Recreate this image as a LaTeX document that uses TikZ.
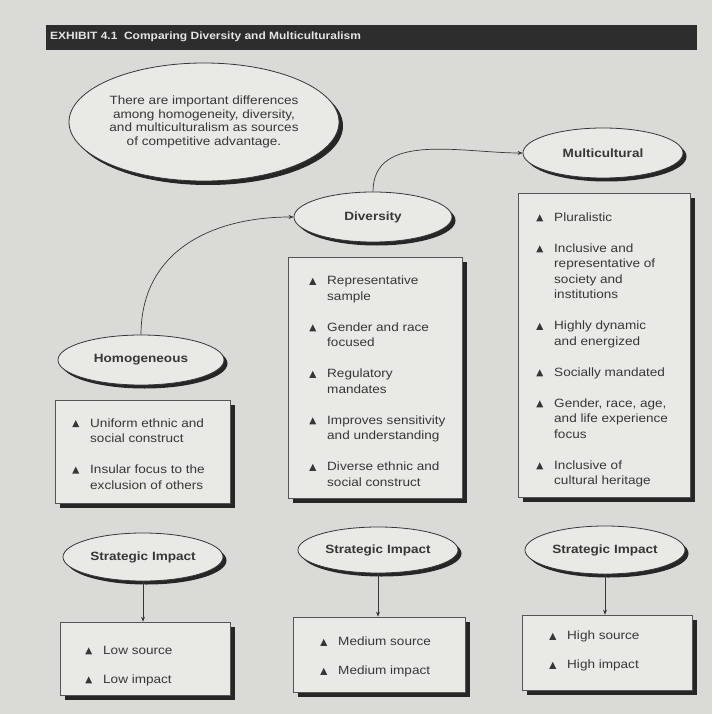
\documentclass[tikz,border=0pt]{standalone}
\usepackage{fontspec}
\setmainfont{Liberation Sans}[FakeStretch=1.13]
\usetikzlibrary{shapes.geometric,shadows,arrows.meta}
\definecolor{paper}{RGB}{218,218,215}
\definecolor{fillc}{RGB}{233,233,230}
\definecolor{ink}{RGB}{55,55,55}
\definecolor{barc}{RGB}{45,45,45}
\newcommand\tri{\tikz[baseline=0pt]\fill[ink] (0pt,0pt)--(7pt,0pt)--(3.5pt,7pt)--cycle;}
\newcommand\tabstart{\begin{tabular}{@{}l@{\hspace{11pt}}l@{}}}
\begin{document}
\begin{tikzpicture}[x=1pt,y=-1pt,
  oval/.style={ellipse, draw=ink, line width=0.8pt, fill=fillc, inner sep=0pt,
    drop shadow={shadow xshift=3.5pt,shadow yshift=-3.5pt,fill=black!85,opacity=1},
    font=\bfseries\fontsize{12}{14}\selectfont, text=ink},
  panel/.style={rectangle, draw=ink!85, line width=0.6pt, fill=fillc, inner sep=0pt,
    drop shadow={shadow xshift=5pt,shadow yshift=-5pt,fill=black!85,opacity=1}},
  list/.style={anchor=west, inner sep=0pt, font=\fontsize{12}{15.5}\selectfont, text=ink},
  conn/.style={draw=ink, line width=0.7pt, -{Stealth[length=5pt,width=4pt]}}]
\useasboundingbox (0,0) rectangle (712,714);
\fill[paper] (0,0) rectangle (712,714);

% title bar
\node[fill=barc, minimum width=651pt, minimum height=25pt, inner sep=0pt, anchor=north west] (bar) at (46,25) {};
\node[anchor=west, inner sep=0pt, text=white!90!black, font=\bfseries\fontsize{10.6}{12}\selectfont] (titletext) at (50,37) {EXHIBIT 4.1 \ Comparing Diversity and Multiculturalism};

% intro ellipse
\node[oval, minimum width=270pt, minimum height=118pt, align=center,
  drop shadow={shadow xshift=4pt,shadow yshift=-4pt,fill=black!85,opacity=1},
  font=\fontsize{12}{13.5}\selectfont] (intro) at (204,122)
  {There are important differences\\ among homogeneity, diversity,\\ and multiculturalism as sources\\ of competitive advantage.};

% category ellipses
\node[oval, minimum width=158pt, minimum height=50pt] (div) at (373,217) {Diversity};
\node[oval, minimum width=160pt, minimum height=50pt] (multi) at (603,153) {Multicultural};
\node[oval, minimum width=166pt, minimum height=50pt] (homog) at (141,360) {Homogeneous};

% characteristic boxes
\node[panel, minimum width=175pt, minimum height=103pt] (hbox) at (142.5,451.5) {};
\node[list] (hlist) at (72,455) {\tabstart
\tri & Uniform ethnic and\\ & social construct\\ & \\
\tri & Insular focus to the\\ & exclusion of others
\end{tabular}};

\node[panel, minimum width=174pt, minimum height=241pt] (dbox) at (375,377.5) {};
\node[list] (dlist) at (309,382.5) {\tabstart
\tri & Representative\\ & sample\\ & \\
\tri & Gender and race\\ & focused\\ & \\
\tri & Regulatory\\ & mandates\\ & \\
\tri & Improves sensitivity\\ & and understanding\\ & \\
\tri & Diverse ethnic and\\ & social construct
\end{tabular}};

\node[panel, minimum width=172pt, minimum height=304pt] (mbox) at (604,345) {};
\node[list] (mlist) at (536,350) {\tabstart
\tri & Pluralistic\\ & \\
\tri & Inclusive and\\ & representative of\\ & society and\\ & institutions\\ & \\
\tri & Highly dynamic\\ & and energized\\ & \\
\tri & Socially mandated\\ & \\
\tri & Gender, race, age,\\ & and life experience\\ & focus\\ & \\
\tri & Inclusive of\\ & cultural heritage
\end{tabular}};

% strategic impact ellipses
\node[oval, minimum width=160pt, minimum height=48pt] (s1) at (143,557) {Strategic Impact};
\node[oval, minimum width=160pt, minimum height=46pt] (s2) at (378,550) {Strategic Impact};
\node[oval, minimum width=160pt, minimum height=48pt] (s3) at (605,550) {Strategic Impact};

% impact boxes
\node[panel, minimum width=170pt, minimum height=73pt] (lbox) at (145,658.5) {};
\node[list, font=\fontsize{12}{14.5}\selectfont] (llist) at (85,666) {\tabstart
\tri & Low source\\ & \\ \tri & Low impact
\end{tabular}};
\node[panel, minimum width=172pt, minimum height=75pt] (mdbox) at (379,654.5) {};
\node[list, font=\fontsize{12}{14.5}\selectfont] (mdlist) at (320,657.5) {\tabstart
\tri & Medium source\\ & \\ \tri & Medium impact
\end{tabular}};
\node[panel, minimum width=170pt, minimum height=75pt] (hibox) at (607,652.5) {};
\node[list, font=\fontsize{12}{14.5}\selectfont] (hilist) at (549,651.5) {\tabstart
\tri & High source\\ & \\ \tri & High impact
\end{tabular}};

% connectors
\draw[conn] (homog.north) to[out=90,in=180,looseness=1.1] (div.west);
\draw[conn] (div.north) to[out=90,in=180,looseness=1.0] (multi.west);
\draw[conn] (s1.south) -- (s1.south |- lbox.north);
\draw[conn] (s2.south) -- (s2.south |- mdbox.north);
\draw[conn] (s3.south) -- (s3.south |- hibox.north);
\end{tikzpicture}
\end{document}
